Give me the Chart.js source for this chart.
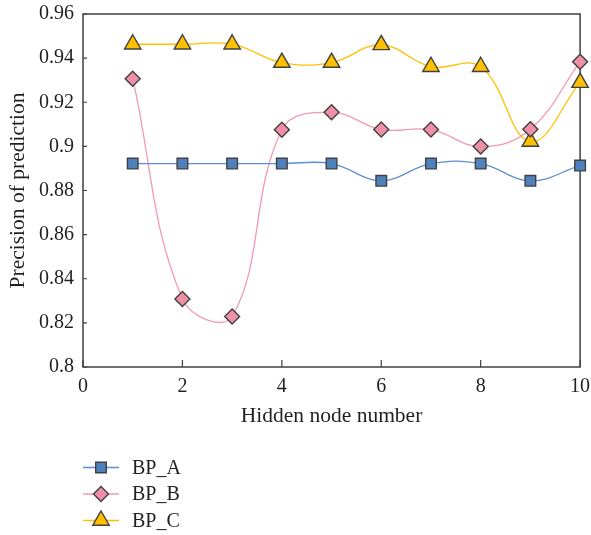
<!DOCTYPE html>
<html>
<head>
<meta charset="utf-8">
<script src="https://cdn.jsdelivr.net/npm/chart.js@4/dist/chart.umd.min.js"></script>
<style>
  html, body { margin: 0; padding: 0; background: #fff; }
  #wrap { width: 591px; height: 535px; position: relative; }
</style>
</head>
<body>
<div id="wrap"><canvas id="chart" width="591" height="535"></canvas></div>
<script>
const hiddenNodes = [1, 2, 3, 4, 5, 6, 7, 8, 9, 10];
const bpA = [0.8922, 0.8922, 0.8922, 0.8922, 0.8922, 0.8844, 0.8922, 0.8922, 0.8844, 0.8913];
const bpB = [0.9307, 0.8308, 0.8229, 0.9075, 0.9155, 0.9076, 0.9076, 0.8999, 0.9078, 0.9384];
const bpC = [0.9463, 0.9463, 0.9463, 0.938, 0.938, 0.946, 0.9361, 0.9361, 0.9022, 0.9289];
const yTicks = [0.8, 0.82, 0.84, 0.86, 0.88, 0.9, 0.92, 0.94, 0.96];
const xTicks = [0, 2, 4, 6, 8, 10];

const FONT = "'Liberation Serif', 'DejaVu Serif', serif";
const INK = '#231f20';
const EDGE = '#404040';

function pts(ys) {
  return hiddenNodes.map((x, i) => ({ x: x, y: ys[i] }));
}

function series(label, ys, line, fill, style, r) {
  return {
    label: label,
    data: pts(ys),
    borderColor: line,
    borderWidth: 1.3,
    backgroundColor: fill,
    pointBackgroundColor: fill,
    pointBorderColor: EDGE,
    pointBorderWidth: 1.4,
    pointStyle: style,
    pointRadius: r,
    pointHoverRadius: r,
    tension: 0.4,
    fill: false,
    clip: false
  };
}

// no extra room for the end labels, the layout padding handles it
function noOverhang(scale) {
  scale.paddingTop = 0;
  scale.paddingBottom = 0;
  scale.paddingLeft = 0;
  scale.paddingRight = 0;
}

// frame box, inner tick marks and the stacked legend
const framePlugin = {
  id: 'frame',
  beforeDatasetsDraw(chart) {
    const { ctx, chartArea: a, scales } = chart;
    ctx.save();
    ctx.strokeStyle = EDGE;
    ctx.lineWidth = 1.5;
    ctx.strokeRect(a.left, a.top, a.right - a.left, a.bottom - a.top);
    ctx.lineWidth = 1.2;
    ctx.beginPath();
    yTicks.forEach(v => {
      const y = scales.y.getPixelForValue(v);
      ctx.moveTo(a.left, y);
      ctx.lineTo(a.left + 4, y);
    });
    xTicks.forEach(v => {
      const x = scales.x.getPixelForValue(v);
      ctx.moveTo(x, a.bottom);
      ctx.lineTo(x, a.bottom - 7);
    });
    ctx.stroke();
    ctx.restore();
  },
  afterDraw(chart) {
    const ctx = chart.ctx;
    const rows = [467.5, 494, 520.5];
    ctx.save();
    chart.data.datasets.forEach((ds, i) => {
      const y = rows[i];
      ctx.strokeStyle = ds.borderColor;
      ctx.lineWidth = 1.3;
      ctx.beginPath();
      ctx.moveTo(83, y);
      ctx.lineTo(119, y);
      ctx.stroke();
      ctx.fillStyle = ds.pointBackgroundColor;
      ctx.strokeStyle = EDGE;
      ctx.lineWidth = 1.4;
      Chart.helpers.drawPoint(ctx, { pointStyle: ds.pointStyle, radius: ds.pointRadius, borderWidth: 1.4, rotation: 0 }, 101, y);
      ctx.fillStyle = INK;
      ctx.font = '20px ' + FONT;
      ctx.textBaseline = 'middle';
      ctx.textAlign = 'left';
      ctx.fillText(ds.label, 132, y + 1);
    });
    ctx.restore();
  }
};

new Chart(document.getElementById('chart'), {
  type: 'line',
  data: {
    datasets: [
      series('BP_A', bpA, '#5b8fd2', '#4f81bd', 'rect', 7.5),
      series('BP_B', bpB, '#f49ab0', '#f08fa8', 'rectRot', 7.5),
      series('BP_C', bpC, '#ffc000', '#ffc000', 'triangle', 9.5)
    ]
  },
  options: {
    responsive: false,
    animation: false,
    layout: { padding: { top: 14, right: 10, left: 0, bottom: 105 } },
    plugins: {
      legend: { display: false },
      tooltip: { enabled: false }
    },
    scales: {
      x: {
        type: 'linear',
        min: 0,
        max: 10,
        afterFit(scale) { scale.height = 63; noOverhang(scale); },
        afterBuildTicks(scale) { scale.ticks = xTicks.map(v => ({ value: v })); },
        grid: { display: false, drawTicks: false },
        border: { display: false },
        ticks: { color: INK, font: { family: FONT, size: 20 }, padding: 8, maxRotation: 0 },
        title: {
          display: true,
          text: 'Hidden node number',
          color: INK,
          font: { family: FONT, size: 21.5 },
          padding: { top: 0, bottom: 1 }
        }
      },
      y: {
        min: 0.8,
        max: 0.96,
        afterFit(scale) { scale.width = 83; noOverhang(scale); },
        afterBuildTicks(scale) { scale.ticks = yTicks.map(v => ({ value: v })); },
        grid: { display: false, drawTicks: false },
        border: { display: false },
        ticks: {
          color: INK,
          font: { family: FONT, size: 20 },
          padding: 9,
          callback: v => String(+v.toFixed(2))
        },
        title: {
          display: true,
          text: 'Precision of prediction',
          color: INK,
          font: { family: FONT, size: 21.5 },
          padding: { top: 5, bottom: 0 }
        }
      }
    }
  },
  plugins: [framePlugin]
});
</script>
</body>
</html>
